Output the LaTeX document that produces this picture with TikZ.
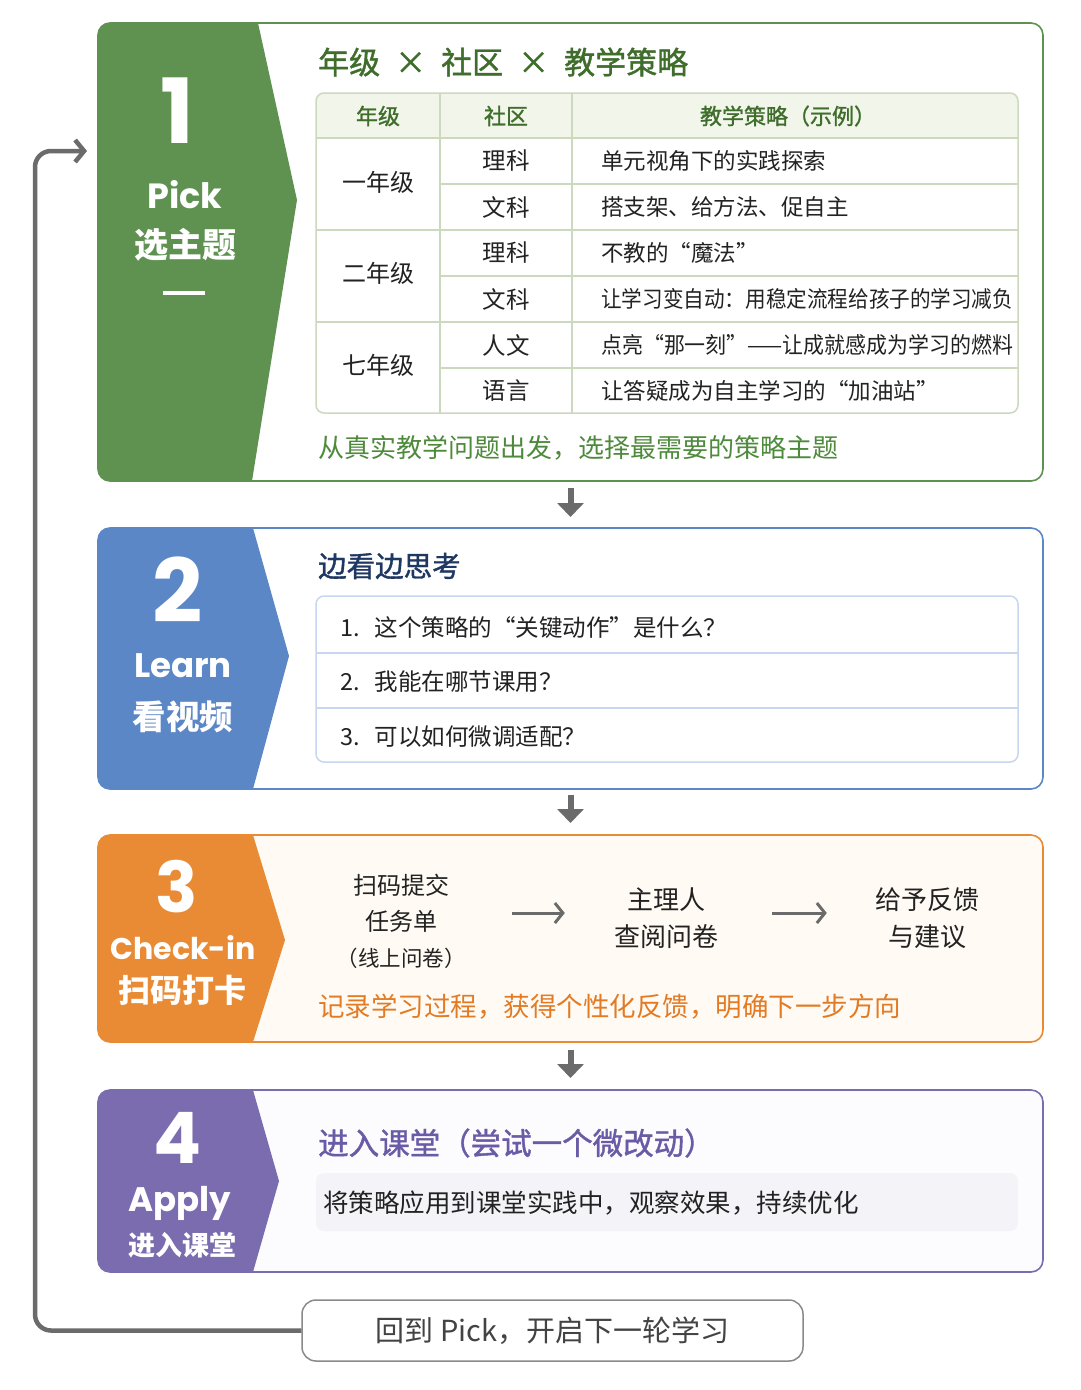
\documentclass[tikz,border=0pt]{standalone}
\usepackage{fontspec}
\usepackage{graphicx}
\setmainfont{Noto Sans CJK SC}
\newfontfamily\medf{Noto Sans CJK SC}[FakeBold=1.3]
\newfontfamily\popf{Poppins}
\usetikzlibrary{arrows.meta}
\newcommand\fsz[1]{\fontsize{#1}{#1}\selectfont}
\definecolor{gA}{HTML}{5F9251}
\definecolor{gT}{HTML}{3F6D2C}
\definecolor{gF}{HTML}{4E8A3B}
\definecolor{gL}{HTML}{CCD9BF}
\definecolor{gH}{HTML}{F2F6EA}
\definecolor{bA}{HTML}{5C87C6}
\definecolor{bT}{HTML}{1F3863}
\definecolor{bL}{HTML}{C8D7EF}
\definecolor{oA}{HTML}{E98B35}
\definecolor{oT}{HTML}{E27B24}
\definecolor{oB}{HTML}{FFFAF3}
\definecolor{pA}{HTML}{7B6CAF}
\definecolor{pT}{HTML}{6A5BA6}
\definecolor{pB}{HTML}{FCFBFE}
\definecolor{pI}{HTML}{F4F3F8}
\definecolor{ink}{HTML}{222222}
\definecolor{gry}{HTML}{6B6B6B}
\definecolor{gryB}{HTML}{8A8A8A}
\begin{document}
\begin{tikzpicture}[x=1pt,y=-1pt,
  panel/.style={draw, line width=1.6pt, rounded corners=12pt, minimum width=945pt, anchor=north west, inner sep=0, outer sep=0},
  txt/.style={inner sep=0, anchor=west, text=ink},
  ctr/.style={inner sep=0, text=ink},
  big/.style={inner sep=0, anchor=base, text=white},
  cjkl/.style={inner sep=0, text=white},
  downarr/.style={draw=gry, line width=6pt, -{Triangle[length=14pt,width=26pt]}},
  flowarr/.style={draw=gry, line width=3pt, -{Straight Barb[length=8pt,width=20pt]}},
  looparr/.style={draw=gry, line width=4.5pt, rounded corners=16pt, -{Straight Barb[length=9pt,width=22pt]}},
]
\useasboundingbox (0,0) rectangle (1080,1390);
\fill[white] (0,0) rectangle (1080,1390);

% ---------- Panel 1 ----------
\node[panel, draw=gA, fill=white, minimum height=458pt] (p1) at (98,23) {};
\begin{scope}
  \clip[rounded corners=12pt] (p1.north west) rectangle (p1.south east);
  \fill[gA] (98,23) -- (258,23) -- (297,200) -- (252,481) -- (98,481) -- cycle;
\end{scope}
\node[big, font=\popf\bfseries\fsz{90}] (n1) at (177,143) {1};
\node[big, font=\popf\bfseries\fsz{35}] (e1) at (185,208) {Pick};
\node[cjkl, font=\bfseries\fsz{34}] (c1) at (185,245) {选主题};
\draw[white, line width=3.5pt] (163,293) -- (205,293);

\node[txt, text=gT, font=\medf\fsz{31}] (t1) at (318,62) {年级\makebox[61pt]{×}社区\makebox[61pt]{×}教学策略};

\begin{scope}
  \clip[rounded corners=8pt] (316,93) rectangle (1018,413);
  \fill[gH] (316,93) rectangle (1018,138);
\end{scope}
\draw[gL, line width=1.3pt] (316,138) -- (1018,138)
  (440,184) -- (1018,184) (316,230) -- (1018,230)
  (440,276) -- (1018,276) (316,322) -- (1018,322)
  (440,368) -- (1018,368)
  (440,93) -- (440,413) (572,93) -- (572,413);
\draw[gL, line width=1.5pt, rounded corners=8pt] (316,93) rectangle (1018,413);

\node[ctr, text=gT, font=\medf\fsz{22}] (h1) at (378,116) {年级};
\node[ctr, text=gT, font=\medf\fsz{22}] (h2) at (506,116) {社区};
\node[ctr, text=gT, font=\medf\fsz{22}] (h3) at (788,116) {教学策略（示例）};

\node[ctr, font=\fsz{24}] (g1) at (378,182) {一年级};
\node[ctr, font=\fsz{24}] (g2) at (378,273) {二年级};
\node[ctr, font=\fsz{24}] (g3) at (378,365) {七年级};

\node[ctr, font=\fsz{23.5}] (k1) at (506,161) {理科};
\node[ctr, font=\fsz{23.5}] (k2) at (506,207) {文科};
\node[ctr, font=\fsz{23.5}] (k3) at (506,253) {理科};
\node[ctr, font=\fsz{23.5}] (k4) at (506,299) {文科};
\node[ctr, font=\fsz{23.5}] (k5) at (506,345) {人文};
\node[ctr, font=\fsz{23.5}] (k6) at (506,391) {语言};

\node[txt, font=\fsz{22.5}] (s1) at (601,161) {单元视角下的实践探索};
\node[txt, font=\fsz{22.5}] (s2) at (601,207) {搭支架、给方法、促自主};
\node[txt, font=\fsz{22.5}] (s3) at (601,253) {不教的“魔法”};
\node[txt, font=\fsz{22.5}] (s4) at (601,299) {\resizebox{412pt}{\height}{让学习变自动：用稳定流程给孩子的学习减负}};
\node[txt, font=\fsz{22.5}] (s5) at (601,345) {\resizebox{412pt}{\height}{点亮“那一刻”——让成就感成为学习的燃料}};
\node[txt, font=\fsz{22.5}] (s6) at (601,391) {让答疑成为自主学习的“加油站”};

\node[txt, text=gF, font=\fsz{26}] (f1) at (318,448) {从真实教学问题出发，选择最需要的策略主题};

% ---------- Panel 2 ----------
\node[panel, draw=bA, fill=white, minimum height=261pt] (p2) at (98,528) {};
\begin{scope}
  \clip[rounded corners=12pt] (p2.north west) rectangle (p2.south east);
  \fill[bA] (98,528) -- (253,528) -- (289,656) -- (253,789) -- (98,789) -- cycle;
\end{scope}
\node[big, font=\popf\bfseries\fsz{88}] (n2) at (178,622) {2};
\node[big, font=\popf\bfseries\fsz{34}] (e2) at (183,677) {Learn};
\node[cjkl, font=\bfseries\fsz{33.5}] (c2) at (183,717) {看视频};

\node[txt, text=bT, font=\medf\fsz{28.5}] (t2) at (318,566) {边看边思考};
\draw[bL, line width=1.5pt, rounded corners=8pt] (316,596) rectangle (1018,762);
\draw[bL, line width=1.5pt] (316,653) -- (1018,653) (316,708) -- (1018,708);
\node[txt, font=\fsz{23.5}] (i1) at (340,628) {\makebox[34.6pt][l]{1.}这个策略的“关键动作”是什么？};
\node[txt, font=\fsz{23.5}] (i2) at (340,682) {\makebox[34.6pt][l]{2.}我能在哪节课用？};
\node[txt, font=\fsz{23.5}] (i3) at (340,737) {\makebox[34.6pt][l]{3.}可以如何微调适配？};

% ---------- Panel 3 ----------
\node[panel, draw=oA, fill=oB, minimum height=207pt] (p3) at (98,835) {};
\begin{scope}
  \clip[rounded corners=12pt] (p3.north west) rectangle (p3.south east);
  \fill[oA] (98,835) -- (253,835) -- (285,940) -- (253,1042) -- (98,1042) -- cycle;
\end{scope}
\node[big, font=\popf\bfseries\fsz{70}] (n3) at (177,912) {3};
\node[big, font=\popf\bfseries\fsz{30}] (e3) at (183,959) {Check-in};
\node[cjkl, font=\bfseries\fsz{32}] (c3) at (182,990) {扫码打卡};

\node[ctr, align=center, font=\fontsize{24}{36}\selectfont, minimum width=222pt] (q1) at (401,921) {扫码提交\\任务单\\{\fsz{21.5}（线上问卷）}};
\node[ctr, align=center, font=\fontsize{26}{37}\selectfont, minimum width=202pt] (q2) at (666,918.5) {主理人\\查阅问卷};
\node[ctr, align=center, font=\fontsize{26}{37}\selectfont, minimum width=200pt] (q3) at (927,918.5) {给予反馈\\与建议};
\draw[flowarr] ([yshift=8pt]q1.east) -- ([yshift=5.5pt]q2.west);
\draw[flowarr, shorten <=5pt] ([yshift=5.5pt]q2.east) -- ([yshift=5.5pt]q3.west);

\node[txt, text=oT, font=\fsz{26.5}] (f3) at (318,1007) {记录学习过程，获得个性化反馈，明确下一步方向};

% ---------- Panel 4 ----------
\node[panel, draw=pA, fill=pB, minimum height=182pt] (p4) at (98,1090) {};
\begin{scope}
  \clip[rounded corners=12pt] (p4.north west) rectangle (p4.south east);
  \fill[pA] (98,1090) -- (253,1090) -- (279,1181) -- (253,1272) -- (98,1272) -- cycle;
\end{scope}
\node[big, font=\popf\bfseries\fsz{71}] (n4) at (178,1163) {4};
\node[big, font=\popf\bfseries\fsz{34}] (e4) at (180,1211) {Apply};
\node[cjkl, font=\bfseries\fsz{27}] (c4) at (182,1245) {进入课堂};

\node[txt, text=pT, font=\medf\fsz{30.5}] (t4) at (318,1143) {进入课堂（尝试一个微改动）};
\fill[pI, rounded corners=8pt] (316,1173) rectangle (1018,1231);
\node[txt, font=\fsz{25.5}] (a4) at (323,1203) {将策略应用到课堂实践中，观察效果，持续优化};

% ---------- down arrows ----------
\draw[downarr] ([yshift=-7pt]p1.south) -- ([yshift=11pt]p2.north);
\draw[downarr] ([yshift=-6pt]p2.south) -- ([yshift=12pt]p3.north);
\draw[downarr] ([yshift=-8pt]p3.south) -- ([yshift=12pt]p4.north);

% ---------- loop back ----------
\node[draw=gryB, line width=1.5pt, rounded corners=14pt, minimum width=501pt, minimum height=61pt, inner sep=0, text=ink!85!white, font=\fsz{29}] (back) at (552.5,1330.5) {回到 Pick，开启下一轮学习};
\coordinate (loopend) at (87,151);
\draw[looparr] (back.west) -| (35,151) -- (loopend);

\end{tikzpicture}
\end{document}
